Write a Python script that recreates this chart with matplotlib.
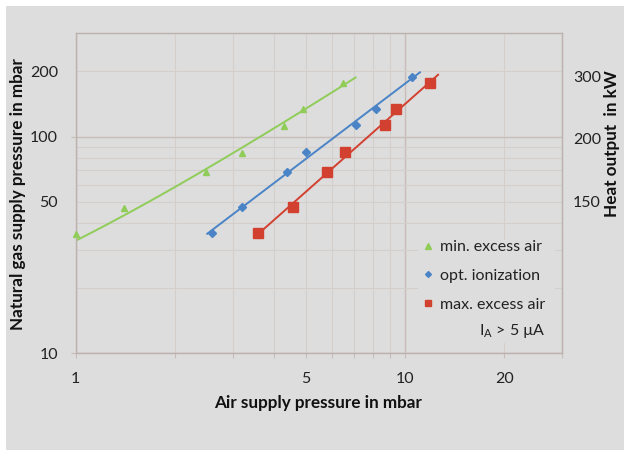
import matplotlib
matplotlib.use("Agg")
import matplotlib.pyplot as plt
import numpy as np
from matplotlib.lines import Line2D
from matplotlib.patches import Rectangle
from matplotlib.ticker import FixedLocator, FixedFormatter

plt.rcParams['font.family'] = ['Lato', 'DejaVu Sans']
plt.rcParams['mathtext.fontset'] = 'custom'
plt.rcParams['mathtext.rm'] = 'Lato'

# data (air supply pressure / natural gas supply pressure, mbar)
air_min = [1.0, 1.40, 2.49, 3.19, 4.28, 4.91, 6.48]
gas_min = [35.5, 46.7, 68.5, 84.4, 112, 133.7, 176]
air_opt = [2.59, 3.19, 4.38, 5.00, 7.08, 8.14, 10.5]
gas_opt = [35.8, 47.2, 68.5, 84.7, 112.8, 134.6, 189]
air_max = [3.59, 4.58, 5.80, 6.57, 8.72, 9.42, 11.94]
gas_max = [35.8, 47.5, 68.5, 84.7, 112.8, 134.3, 177]

# x extent and type of each trend line
trend_min = [1.0, 7.08]
trend_opt = [2.51, 11.1]
trend_max = [3.59, 12.6]
fit_types = ['linear', 'power', 'power']

labels = ['min. excess air', 'opt. ionization', 'max. excess air']

# axis ticks
x_major = [1, 10]
x_minor = [2, 3, 4, 5, 6, 7, 8, 9, 20, 30]
x_minor_labels = ['', '', '', '5', '', '', '', '', '20', '']
y_major = [10, 100]
y_minor = [20, 30, 40, 50, 60, 70, 80, 90, 200, 300]
y_minor_labels = ['', '', '', '50', '', '', '', '', '200', '']
# heat output labels on the right and the gas pressure they sit at
heat_labels = ['150', '200', '300']
heat_pos = [50, 98, 190]

green = '#8fcc58'
blue = '#4a84c6'
red = '#d2402f'
grid_major = '#c8bdb9'
grid_minor = '#d5cfcc'
bg = '#dddddd'
txt = '#222222'

fig = plt.figure(figsize=(6.24, 4.5), dpi=100, facecolor='white')
fig.patches.append(Rectangle((6 / 624, 0), 1, 1 - 6 / 450, transform=fig.transFigure,
                             facecolor=bg, edgecolor='none', zorder=-10))

ax = fig.add_axes([0.121, 0.215, 0.780, 0.711])
ax.set_facecolor(bg)
ax.set_xscale('log')
ax.set_yscale('log')
ax.set_xlim(1, 30)
ax.set_ylim(10, 300)

series = [
    (air_min, gas_min, trend_min, green, '^', 5),
    (air_opt, gas_opt, trend_opt, blue, 'D', 4),
    (air_max, gas_max, trend_max, red, 's', 6.5),
]
handles = []
for (x, y, tr, c, m, ms), lab, fit in zip(series, labels, fit_types):
    ax.plot(x, y, linestyle='none', marker=m, ms=ms, color=c, mec=c, zorder=3, clip_on=False)
    xs = np.geomspace(tr[0], tr[1], 60)
    if fit == 'linear':
        k, b = np.polyfit(x, y, 1)
        ys = k * xs + b
    else:
        k, b = np.polyfit(np.log(x), np.log(y), 1)
        ys = np.exp(b) * xs ** k
    ax.plot(xs, ys, color=c, lw=1.4, zorder=2)
    handles.append(Line2D([], [], linestyle='none', marker=m, ms=ms * 0.75, color=c, label=lab))

ax.xaxis.set_major_locator(FixedLocator(x_major))
ax.xaxis.set_major_formatter(FixedFormatter([str(v) for v in x_major]))
ax.xaxis.set_minor_locator(FixedLocator(x_minor))
ax.xaxis.set_minor_formatter(FixedFormatter(x_minor_labels))
ax.yaxis.set_major_locator(FixedLocator(y_major))
ax.yaxis.set_major_formatter(FixedFormatter([str(v) for v in y_major]))
ax.yaxis.set_minor_locator(FixedLocator(y_minor))
ax.yaxis.set_minor_formatter(FixedFormatter(y_minor_labels))

ax.tick_params(axis='x', which='both', length=3.6, width=0.8, color=grid_major,
               pad=10, labelsize=11.5, labelcolor=txt)
ax.tick_params(axis='y', which='major', length=3.6, width=0.8, color=grid_major,
               pad=9, labelsize=11.5, labelcolor=txt)
ax.tick_params(axis='y', which='minor', length=0, pad=12.6, labelsize=11.5,
               labelcolor=txt)

ax.set_axisbelow(True)
ax.grid(which='major', color=grid_major, lw=1.0)
ax.grid(which='minor', color=grid_minor, lw=0.8)
for s in ax.spines.values():
    s.set_color('#bcb1ad')
    s.set_linewidth(1.0)

# right axis: heat output labels
ax2 = ax.twinx()
ax2.set_yscale('log')
ax2.set_ylim(ax.get_ylim())
ax2.yaxis.set_major_locator(FixedLocator(heat_pos))
ax2.yaxis.set_major_formatter(FixedFormatter(heat_labels))
ax2.yaxis.set_minor_locator(FixedLocator([]))
ax2.tick_params(axis='y', length=0, pad=7.7, labelsize=11.5, labelcolor=txt)
for s in ax2.spines.values():
    s.set_visible(False)

# legend area background hides the grid
ax.add_patch(Rectangle((418, 450 - 343), 137, 103, transform=None,
                       facecolor=bg, edgecolor='none', zorder=1))
leg = ax.legend(handles=handles, loc='upper left', bbox_to_anchor=(422 / 624, 1 - 240 / 450),
                bbox_transform=fig.transFigure, frameon=False, fontsize=11.5,
                borderpad=0, borderaxespad=0, handlelength=0.7, handletextpad=0.45,
                labelspacing=0.92)
for t in leg.get_texts():
    t.set_color(txt)
fig.text(546 / 624, 1 - 331 / 450, r'$\mathregular{I_A}$ > 5 µA', ha='right', va='center',
         fontsize=11.5, color=txt)

fig.text(318 / 624, 1 - 403 / 450, 'Air supply pressure in mbar', ha='center', va='center',
         fontsize=12.3, fontweight='bold', color='#111111')
fig.text(18 / 624, 1 - 194 / 450, 'Natural gas supply pressure in mbar', ha='center',
         va='center', rotation=90, fontsize=12.3, fontweight='bold', color='#111111')
fig.text(612 / 624, 1 - 144 / 450, 'Heat output  in kW', ha='center', va='center',
         rotation=90, fontsize=12.3, fontweight='bold', color='#111111')

fig.savefig('out.png', dpi=100, facecolor=fig.get_facecolor())
